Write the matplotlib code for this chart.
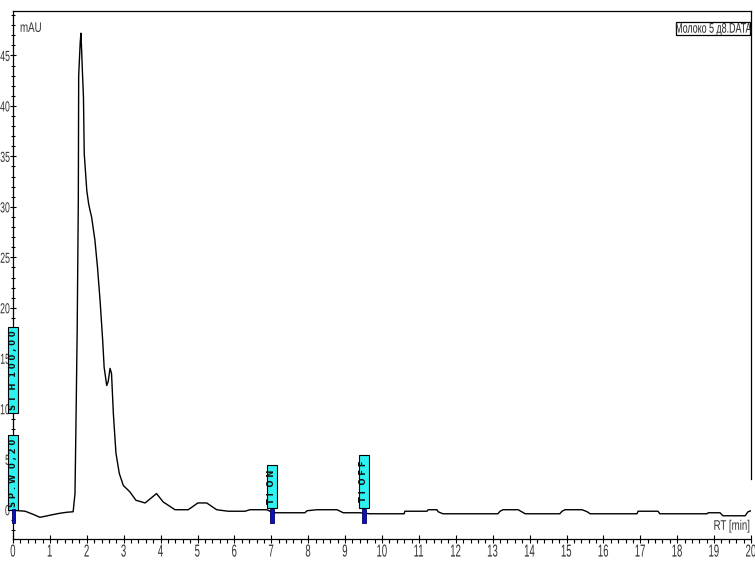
import matplotlib
matplotlib.use("Agg")
import matplotlib.pyplot as plt
from matplotlib.patches import Rectangle
from matplotlib.patheffects import AbstractPathEffect
from matplotlib.transforms import Affine2D
from matplotlib.ticker import MultipleLocator

plt.rcParams["font.family"] = ["Liberation Sans", "DejaVu Sans"]

# retention time [min] and detector signal [mAU]
rt_min = [
    0.0, 0.33, 0.54, 0.73, 0.87, 1.06, 1.27, 1.46, 1.63,
    1.68, 1.71, 1.74, 1.77, 1.78, 1.82, 1.84, 1.86, 1.88, 1.91, 1.93,
    2.0, 2.05, 2.09, 2.13, 2.22, 2.29, 2.36, 2.43, 2.47, 2.54,
    2.58, 2.63, 2.67, 2.72, 2.79, 2.88, 2.99, 3.17, 3.33, 3.58,
    3.89, 4.07, 4.39, 4.75, 5.01, 5.25, 5.52, 5.83, 6.29, 6.42,
    6.88, 7.05, 7.91, 7.97, 8.24, 8.78, 8.95, 9.40, 9.67, 10.60,
    10.62, 11.22, 11.25, 11.49, 11.52, 11.65, 13.14, 13.20, 13.28, 13.69,
    13.88, 14.82, 14.88, 14.96, 15.42, 15.56, 15.64, 16.91, 16.94, 17.48,
    17.53, 18.81, 18.84, 19.16, 19.24, 19.84, 19.92, 20.0,
]
signal_mau = [
    -0.05, -0.15, -0.45, -0.75, -0.65, -0.5, -0.35, -0.25, -0.2,
    1.6, 9.5, 18.0, 30.6, 43.0, 46.2, 47.2, 45.5, 43.5, 40.8, 35.3,
    31.6, 30.3, 29.6, 29.0, 26.7, 24.0, 20.7, 16.8, 14.1, 12.3,
    12.7, 14.0, 13.5, 9.5, 5.6, 3.6, 2.4, 1.76, 0.94, 0.67,
    1.6, 0.77, 0.0, 0.0, 0.67, 0.67, 0.0, -0.15, -0.15, 0.0,
    0.0, -0.3, -0.3, -0.1, 0.0, 0.0, -0.3, -0.3, -0.4, -0.4,
    -0.15, -0.15, 0.0, 0.0, -0.2, -0.4, -0.4, -0.15, 0.0, 0.0,
    -0.4, -0.4, -0.15, 0.0, 0.0, -0.2, -0.4, -0.4, -0.15, -0.15,
    -0.4, -0.4, -0.3, -0.3, -0.6, -0.6, -0.2, -0.1,
]

# integration events: time, label
event_times = [0.0, 0.0, 7.0, 9.5]
event_labels = ["SP.W 0,20", "ST H 100,00", "TI ON", "TI OFF"]
event_marks = [0.0, 7.0, 9.5]

file_name = "Молоко 5 д8.DATA"


class Narrow(AbstractPathEffect):
    """squeeze text horizontally, like the condensed font of the original"""

    def __init__(self, sx=0.6, anchor="center"):
        super().__init__()
        self.sx = sx
        self.anchor = anchor

    def draw_path(self, renderer, gc, tpath, affine, rgbFace=None):
        xs = tpath.vertices[:, 0]
        if len(xs):
            x0 = {"left": xs.min(), "right": xs.max(),
                  "center": (xs.min() + xs.max()) / 2}[self.anchor]
        else:
            x0 = 0
        squeeze = Affine2D().translate(-x0, 0).scale(self.sx, 1).translate(x0, 0)
        renderer.draw_path(gc, tpath, squeeze + affine, rgbFace)


fig = plt.figure(figsize=(7.55, 5.62), dpi=100)
ax = fig.add_axes([13 / 755, 23 / 562, 738 / 755, 528 / 562])

ax.plot(rt_min, signal_mau, color="black", linewidth=1.0, zorder=3)

ax.set_xlim(0, 20)
ax.set_ylim(-2.9, 49.4)
ax.xaxis.set_major_locator(MultipleLocator(1))
ax.xaxis.set_minor_locator(MultipleLocator(0.2))
ax.yaxis.set_minor_locator(MultipleLocator(1))
ax.set_yticks(range(0, 50, 5))
ax.tick_params(axis="x", which="major", direction="inout", length=6, width=0.8,
               labelsize=12.5, pad=1)
ax.tick_params(axis="x", which="minor", direction="out", length=3, width=0.8)
ax.tick_params(axis="y", which="major", direction="inout", length=4, width=0.8,
               labelsize=10.5, pad=0)
ax.tick_params(axis="y", which="minor", direction="inout", length=3, width=0.8)
for lab in ax.get_xticklabels():
    lab.set_color("#333333")
    lab.set_path_effects([Narrow(0.55, "center")])
for lab in ax.get_yticklabels():
    lab.set_color("#333333")
    lab.set_path_effects([Narrow(0.6, "right")])
ax.spines["right"].set_bounds(3, 49.4)
for sp in ax.spines.values():
    sp.set_linewidth(0.9)

# event boxes (cyan, vertical text)
box_spans = {"SP.W 0,20": (-0.05, 7.4), "ST H 100,00": (9.55, 18.1),
             "TI ON": (0.15, 4.4), "TI OFF": (0.15, 5.4)}
bw = 0.27
for t, lab in zip(event_times, event_labels):
    y0, y1 = box_spans[lab]
    ax.add_patch(Rectangle((t + 0.01 - bw / 2, y0), bw, y1 - y0, facecolor="#2ef2f2",
                           edgecolor="black", linewidth=0.8, clip_on=False, zorder=6))
    ax.text(t + 0.01, (y0 + y1) / 2, " ".join(lab).replace("   ", "  "), rotation=90,
            ha="center", va="center", fontsize=6, fontweight="bold",
            family=["DejaVu Sans"], color="#111111", clip_on=False, zorder=7)

for t in event_marks:
    ax.add_patch(Rectangle((t + 0.01 - 0.05, -1.35), 0.1, 1.45, facecolor="#1010c0",
                           edgecolor="#000060", linewidth=0.6, clip_on=False, zorder=6))

ax.text(0.0095, 0.968, "mAU", transform=ax.transAxes, fontsize=10, color="#333333",
        ha="left", va="center", path_effects=[Narrow(0.7, "left")])
ax.text(0.999, 0.025, "RT [min]", transform=ax.transAxes, fontsize=10, color="#333333",
        ha="right", va="center", path_effects=[Narrow(0.7, "right")])

# file name in a small framed box, top right
ax.add_patch(Rectangle((0.898, 0.9545), 0.1005, 0.0245, transform=ax.transAxes,
                       facecolor="white", edgecolor="black", linewidth=0.9,
                       clip_on=False, zorder=4))
ax.text(0.949, 0.9665, file_name, transform=ax.transAxes, fontsize=10, color="#222222",
        ha="center", va="center", path_effects=[Narrow(0.64, "center")], zorder=5)

fig.savefig("out.png", dpi=100)
